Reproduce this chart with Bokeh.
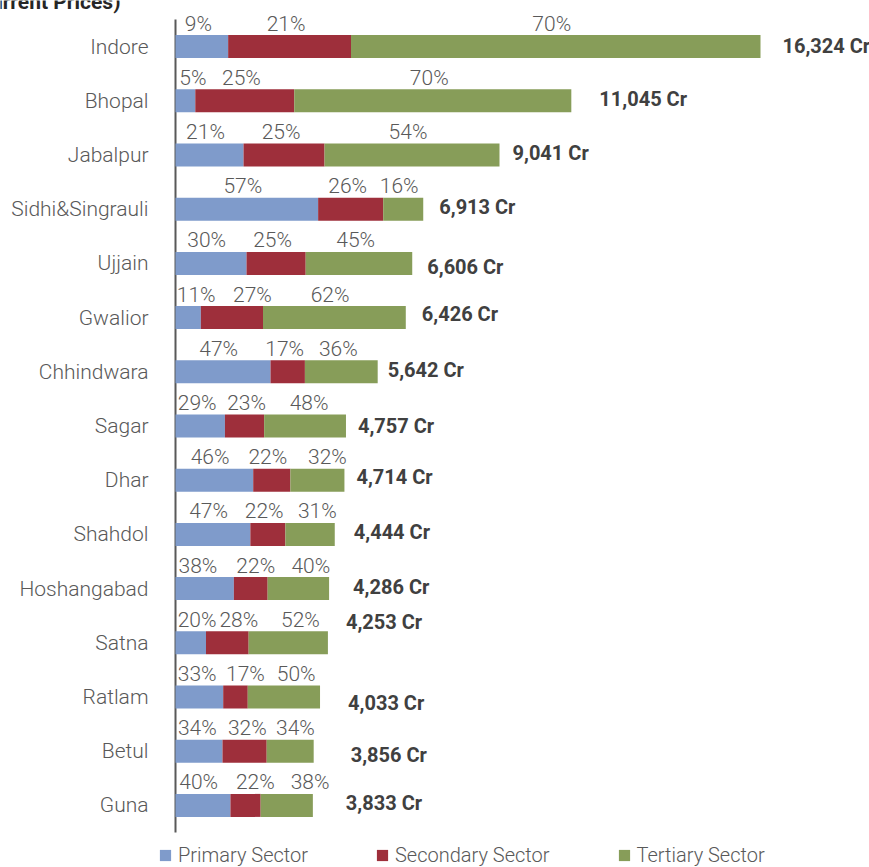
from bokeh.plotting import figure
from bokeh.models import Range1d, Legend, LegendItem, ColumnDataSource
from bokeh.embed import file_html
from bokeh.resources import INLINE
from bokeh.core.properties import value

districts = ["Indore", "Bhopal", "Jabalpur", "Sidhi&Singrauli", "Ujjain", "Gwalior",
             "Chhindwara", "Sagar", "Dhar", "Shahdol", "Hoshangabad", "Satna",
             "Ratlam", "Betul", "Guna"]
totals = [16324, 11045, 9041, 6913, 6606, 6426, 5642, 4757, 4714, 4444, 4286, 4253,
          4033, 3856, 3833]
primary = [9, 5, 21, 57, 30, 11, 47, 29, 46, 47, 38, 20, 33, 34, 40]
secondary = [21, 25, 25, 26, 25, 27, 17, 23, 22, 22, 22, 28, 17, 32, 22]
tertiary = [70, 70, 54, 16, 45, 62, 36, 48, 32, 31, 40, 52, 50, 34, 38]
sector_names = ["Primary Sector", "Secondary Sector", "Tertiary Sector"]
title_text = "District-wise GDDP (at Current Prices)"

# ---- layout / style (page pixel targets) ----
colors = ["#7F9BCB", "#9E2F3B", "#879D59"]
FONT = "Roboto"
LIGHT = "Roboto Light"
W, H = 869, 867
AXIS_X = 175                  # page x of the category axis (value 0)
ROWS_TOP = 19                 # top of the first category band
ROW_PX = 54.2
UNIT_PX = 585.0 / 16324.0     # pixels per Crore
PCT_RISE_PX = 23              # share labels: centre above the bar centre
# nudges (pixels) for the total labels: (dx from bar end, dy from row centre)
total_nudge_px = [(22, -1), (28, -2), (13, -2), (16, -2), (15, 4), (16, -4), (10, -2),
                  (12, 0), (12, -3), (19, -2), (24, -2), (18, -21), (28, 6), (37, 4),
                  (33, -2)]
# x nudges (pixels) of the share labels from their segment centres
pct_nudge_px = [(-3.5, -3.5, -4), (7.5, -3.3, -3.5), (-4, -3, -4), (-4, -3, -4),
                (-4.3, -3.5, -3.3), (8, 20.5, -4.3), (-4.3, -3, -3), (-3, 2, 4),
                (-4.3, -4, 10), (-4.3, -3.7, 7.3), (-6.7, 5, 12.5), (6.3, 11.5, 12.2),
                (-2.2, 10, 12.3), (-1.7, 2.7, 5.2), (-4.3, 9.8, 23.3)]

n = len(districts)
idx = list(range(n))


def py(page_y):
    """page pixel row -> data y"""
    return -0.5 + (page_y - ROWS_TOP) / ROW_PX


def px(page_x):
    """page pixel column -> data x"""
    return (page_x - AXIS_X) / UNIT_PX


p = figure(width=W, height=H, output_backend="svg", toolbar_location=None,
           x_range=Range1d(px(0), px(W)), y_range=Range1d(py(H), py(0)),
           min_border_left=0, min_border_top=0, min_border_right=0, min_border_bottom=0)
p.outline_line_color = None
p.xgrid.visible = False
p.ygrid.visible = False
p.xaxis.visible = False
p.yaxis.visible = False

# category labels
p.text(x=[px(148)] * n, y=idx, text=districts, text_font=value(LIGHT),
       text_font_size="21px", text_color="#595959", text_align="right",
       text_baseline="middle")

# vertical category axis line
p.segment(x0=[0], y0=[-0.5], x1=[0], y1=[n - 0.5], line_color="#595959", line_width=2)

bar_h = 23 / ROW_PX
lefts = [0.0] * n
renderers = []
pct_x, pct_y, pct_t = [], [], []
for k, (series, col, name) in enumerate(zip([primary, secondary, tertiary], colors, sector_names)):
    widths = [t * v / (a + b + c) for t, v, a, b, c in zip(totals, series, primary, secondary, tertiary)]
    rights = [l + w for l, w in zip(lefts, widths)]
    src = ColumnDataSource(dict(y=idx, left=lefts, right=rights))
    r = p.hbar(y="y", left="left", right="right", height=bar_h, source=src,
               fill_color=col, line_color=None)
    renderers.append((name, r))
    for i in idx:
        pct_x.append((lefts[i] + rights[i]) / 2 + pct_nudge_px[i][k] / UNIT_PX)
        pct_y.append(i - PCT_RISE_PX / ROW_PX)
        pct_t.append(f"{series[i]}%")
    lefts = rights

p.text(x=pct_x, y=pct_y, text=pct_t, text_font=value(LIGHT), text_font_size="21px",
       text_color="#595959", text_align="center", text_baseline="middle")

vx = [t + dx / UNIT_PX for t, (dx, dy) in zip(totals, total_nudge_px)]
vy = [i + dy / ROW_PX for i, (dx, dy) in zip(idx, total_nudge_px)]
vt = [f"{t:,} Cr" for t in totals]
p.text(x=vx, y=vy, text=vt, text_font=value(FONT), text_font_size="20px",
       text_font_style="bold", text_color="#404040", text_align="left",
       text_baseline="middle")

# title (the reference shows only its cropped tail)
p.text(x=[px(120)], y=[py(1.5)], text=[title_text], text_font=value(FONT),
       text_font_size="21px", text_font_style="bold", text_color="#262626",
       text_align="right", text_baseline="middle")

legend = Legend(items=[LegendItem(label=nm, renderers=[r]) for nm, r in renderers],
                orientation="horizontal", location=(158, 0), spacing=67,
                glyph_width=14, glyph_height=14, label_standoff=6, padding=0,
                margin=0, border_line_color=None, background_fill_alpha=0,
                label_text_font=LIGHT, label_text_font_size="20px",
                label_text_color="#595959")
p.add_layout(legend, "center")

open("out.html", "w").write(file_html(p, INLINE))
